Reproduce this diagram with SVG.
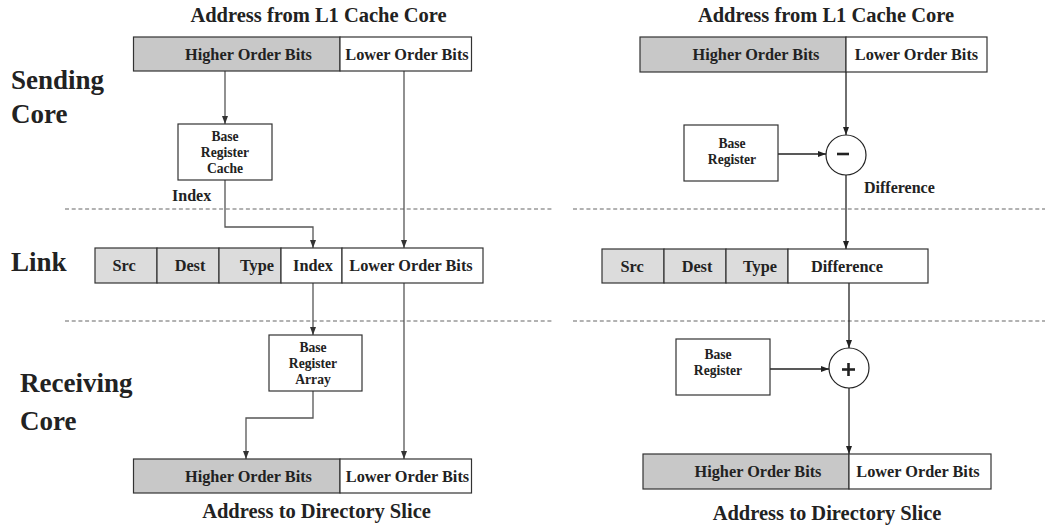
<svg xmlns="http://www.w3.org/2000/svg" width="1050" height="526" viewBox="0 0 1050 526">
<style>
text{font-family:"Liberation Serif","Times New Roman",serif;font-weight:bold;fill:#222}
.hdr{font-size:20.5px;text-anchor:middle}
.big{font-size:27px}
.cell{font-size:16.3px;text-anchor:middle}
.lbl{font-size:16px}
.reg{font-size:13.6px;text-anchor:middle}
.box{stroke:#333;stroke-width:1.2;fill:#fff}
.g1{fill:#c8c8c8}
.g2{fill:#dcdcdc}
.dash{stroke:#666;stroke-width:1.2;stroke-dasharray:4 2.7;fill:none}
.cg{stroke:#555;stroke-width:1.3;fill:none;marker-end:url(#ag)}
.ck{stroke:#222;stroke-width:1.3;fill:none;marker-end:url(#ak)}
.op{stroke:#222;stroke-width:1.2;fill:#fff}
</style>
<defs>
<marker id="ag" markerUnits="userSpaceOnUse" markerWidth="8" markerHeight="6" refX="8" refY="3" orient="auto"><path d="M0,0 L8,3 L0,6 z" fill="#333"/></marker>
<marker id="ak" markerUnits="userSpaceOnUse" markerWidth="8" markerHeight="6" refX="8" refY="3" orient="auto"><path d="M0,0 L8,3 L0,6 z" fill="#222"/></marker>
</defs>
<rect width="1050" height="526" fill="#fff"/>

<g id="section-labels">
<text class="big" x="11" y="89">Sending</text>
<text class="big" x="11" y="123">Core</text>
<text class="big" x="11" y="271">Link</text>
<text class="big" x="20" y="392">Receiving</text>
<text class="big" x="20" y="430">Core</text>
</g>

<g id="separators">
<line class="dash" x1="65" y1="209" x2="553" y2="209"/>
<line class="dash" x1="573" y1="209" x2="1045" y2="209"/>
<line class="dash" x1="65" y1="321" x2="553" y2="321"/>
<line class="dash" x1="573" y1="321" x2="1045" y2="321"/>
</g>

<g id="connectors">
<path class="cg" d="M225,71 V124"/>
<path class="cg" d="M404,71 V248"/>
<path class="cg" d="M225,180 V227 H313 V248"/>
<path class="cg" d="M313,283 V335"/>
<path class="cg" d="M404,283 V459"/>
<path class="cg" d="M313,391 V418 H246 V459"/>
<path class="ck" d="M846,72 V135"/>
<path class="ck" d="M778,154 H826"/>
<path class="ck" d="M846,175 V249"/>
<path class="ck" d="M849,283 V348"/>
<path class="ck" d="M770,369 H829"/>
<path class="ck" d="M849,388 V454"/>
</g>

<g id="left-src-address">
<text class="hdr" x="318.5" y="22">Address from L1 Cache Core</text>
<rect class="box g1" x="133.5" y="37" width="206.5" height="34"/>
<rect class="box" x="340" y="37" width="131.5" height="34"/>
<text class="cell" x="248.5" y="60">Higher Order Bits</text>
<text class="cell" x="407" y="60">Lower Order Bits</text>
</g>

<g id="base-register-cache">
<rect class="box" x="178" y="124" width="94" height="56"/>
<text class="reg" x="225" y="141">Base</text>
<text class="reg" x="225" y="157">Register</text>
<text class="reg" x="225" y="173">Cache</text>
<text class="lbl" x="172" y="201">Index</text>
</g>

<g id="left-link">
<rect class="box g2" x="95" y="248" width="62" height="35"/>
<rect class="box g2" x="157" y="248" width="62" height="35"/>
<rect class="box g2" x="219" y="248" width="62" height="35"/>
<rect class="box" x="281" y="248" width="61" height="35"/>
<rect class="box" x="342" y="248" width="141" height="35"/>
<text class="cell" x="124" y="271">Src</text>
<text class="cell" x="190" y="271">Dest</text>
<text class="cell" x="257" y="271">Type</text>
<text class="cell" x="313" y="271">Index</text>
<text class="cell" x="411" y="271">Lower Order Bits</text>
</g>

<g id="base-register-array">
<rect class="box" x="269" y="335" width="93" height="56"/>
<text class="reg" x="313" y="352">Base</text>
<text class="reg" x="313" y="368">Register</text>
<text class="reg" x="313" y="384">Array</text>
</g>

<g id="left-dst-address">
<rect class="box g1" x="133.5" y="459" width="206.5" height="34"/>
<rect class="box" x="340" y="459" width="131.5" height="34"/>
<text class="cell" x="248.5" y="482">Higher Order Bits</text>
<text class="cell" x="407.5" y="482">Lower Order Bits</text>
<text class="hdr" x="316.5" y="518">Address to Directory Slice</text>
</g>

<g id="right-src-address">
<text class="hdr" x="826" y="22">Address from L1 Cache Core</text>
<rect class="box g1" x="640" y="37" width="206" height="35"/>
<rect class="box" x="846" y="37" width="141" height="35"/>
<text class="cell" x="756" y="60">Higher Order Bits</text>
<text class="cell" x="916.5" y="60">Lower Order Bits</text>
</g>

<g id="base-register-1">
<rect class="box" x="684" y="125" width="94" height="56"/>
<text class="reg" x="732" y="148">Base</text>
<text class="reg" x="732" y="164">Register</text>
</g>

<g id="subtract">
<circle class="op" cx="846" cy="155" r="20"/>
<line x1="837" y1="154" x2="849" y2="154" stroke="#222" stroke-width="2.6"/>
<text class="lbl" x="864" y="193">Difference</text>
</g>

<g id="right-link">
<rect class="box g2" x="602" y="249" width="62" height="34"/>
<rect class="box g2" x="664" y="249" width="62" height="34"/>
<rect class="box g2" x="726" y="249" width="62" height="34"/>
<rect class="box" x="788" y="249" width="140" height="34"/>
<text class="cell" x="632" y="272">Src</text>
<text class="cell" x="697" y="272">Dest</text>
<text class="cell" x="760" y="272">Type</text>
<text class="cell" x="847" y="272">Difference</text>
</g>

<g id="base-register-2">
<rect class="box" x="676" y="339" width="94" height="56"/>
<text class="reg" x="718" y="359">Base</text>
<text class="reg" x="718" y="375">Register</text>
</g>

<g id="add">
<circle class="op" cx="849" cy="368" r="20"/>
<line x1="842" y1="369.5" x2="855" y2="369.5" stroke="#222" stroke-width="2.6"/>
<line x1="848.5" y1="363" x2="848.5" y2="376" stroke="#222" stroke-width="2.6"/>
</g>

<g id="right-dst-address">
<rect class="box g1" x="643" y="454" width="206" height="35"/>
<rect class="box" x="849" y="454" width="142" height="35"/>
<text class="cell" x="758" y="477">Higher Order Bits</text>
<text class="cell" x="918" y="477">Lower Order Bits</text>
<text class="hdr" x="827" y="520">Address to Directory Slice</text>
</g>
</svg>
